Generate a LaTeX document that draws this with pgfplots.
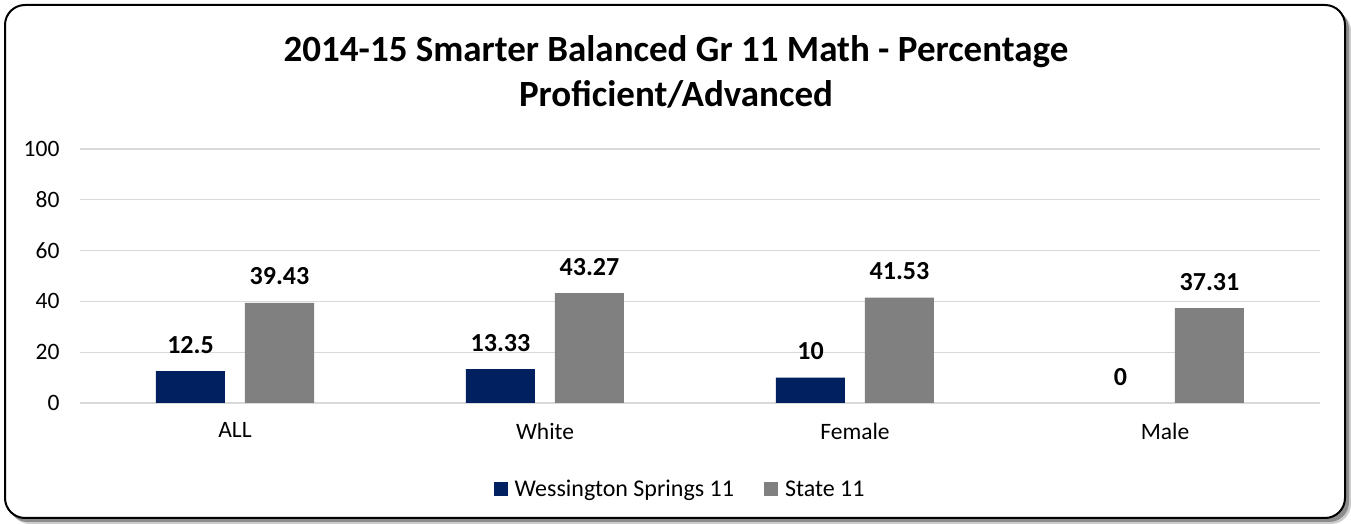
\documentclass[border=0pt]{standalone}
\usepackage{pgfplots}
\pgfplotsset{compat=1.18}
\usepackage{fontspec}
\setmainfont{Carlito}
\definecolor{navy}{HTML}{002060}
\definecolor{stategray}{HTML}{808080}
\definecolor{gridgray}{HTML}{D9D9D9}
\begin{document}
\begin{tikzpicture}
\useasboundingbox (0,0) rectangle (1351bp,524bp);
% shadow
\fill[black!20, rounded corners=20bp] (10bp,0bp) rectangle (1351bp,513bp);
\fill[black!45, rounded corners=20bp] (8bp,2bp) rectangle (1349bp,515bp);
\fill[white, draw=black, line width=2bp, rounded corners=20bp] (5bp,6bp) rectangle (1345bp,519bp);
% title
\node[anchor=base, inner sep=0pt, font=\fontsize{37bp}{44bp}\selectfont\bfseries] at (676bp,462bp) {2014-15 Smarter Balanced Gr 11 Math - Percentage};
\node[anchor=base, inner sep=0pt, font=\fontsize{37bp}{44bp}\selectfont\bfseries] at (676bp,417bp) {Proficient/Advanced};
\begin{axis}[
  at={(80bp,121bp)}, anchor=south west,
  width=1240bp, height=254bp, scale only axis,
  xmin=-0.5, xmax=3.5, ymin=0, ymax=100,
  ytick={0,20,...,100},
  xtick={0,1,2,3}, xticklabels={ALL,White,Female,Male},
  ybar=20bp, bar width=69bp,
  axis line style={draw=none},
  tick style={draw=none},
  ymajorgrids,
  major grid style={gridgray, line width=1.3bp},
  /pgf/number format/assume math mode=true,
  ticklabel style={font=\fontsize{23.5bp}{27bp}\selectfont},
  yticklabel style={xshift=-17bp},
  xticklabel style={yshift=-12bp},
  nodes near coords,
  every node near coord/.append style={font=\fontsize{26bp}{30bp}\selectfont\bfseries, anchor=base, inner sep=0pt, yshift=18bp},
  legend columns=2,
  legend style={draw=none, at={(0.484,-0.339)}, anchor=center,
    font=\fontsize{24bp}{28bp}\selectfont,
    /tikz/every odd column/.append style={column sep=5bp},
    /tikz/every even column/.append style={column sep=28bp}},
  legend image code/.code={\draw[#1,/tikz/.cd,draw=none] (0bp,-7bp) rectangle (14bp,7bp);},
]
\addplot[fill=navy, draw=none] coordinates {(0,12.5) (1,13.33) (2,10) (3,0)};
\addplot[fill=stategray, draw=none] coordinates {(0,39.43) (1,43.27) (2,41.53) (3,37.31)};
\legend{Wessington Springs 11, State 11}
\end{axis}
\end{tikzpicture}
\end{document}
